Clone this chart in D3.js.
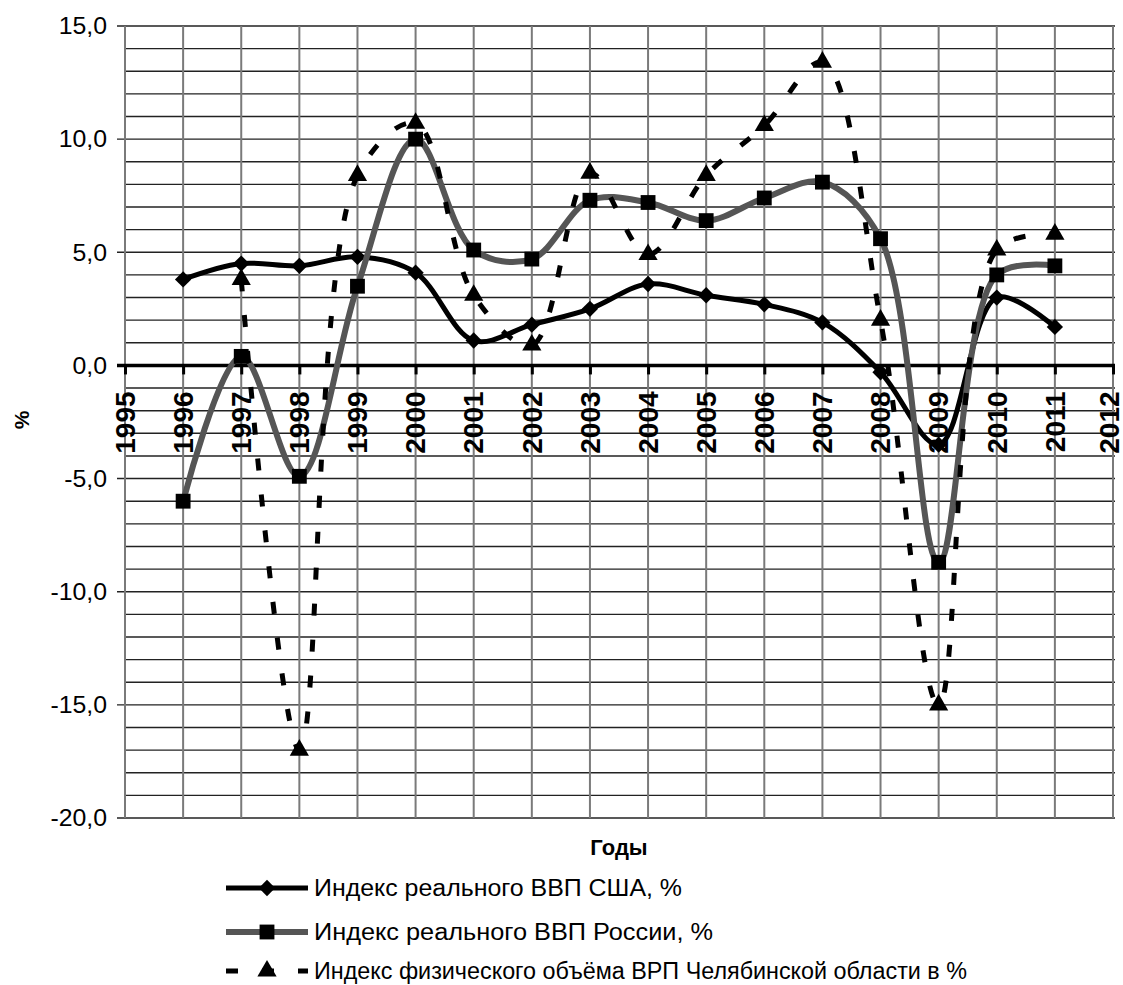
<!DOCTYPE html>
<html>
<head>
<meta charset="utf-8">
<script src="https://cdn.jsdelivr.net/npm/d3@7"></script>
<style>
  body { margin: 0; background: #fff; }
  svg { display: block; font-family: "Liberation Sans", Arial, sans-serif; }
</style>
</head>
<body>
<div id="chart"></div>
<script>
// data
const years = [1996, 1997, 1998, 1999, 2000, 2001, 2002, 2003, 2004, 2005, 2006, 2007, 2008, 2009, 2010, 2011];
const usa = [3.8, 4.5, 4.4, 4.8, 4.1, 1.1, 1.8, 2.5, 3.6, 3.1, 2.7, 1.9, -0.3, -3.5, 3.0, 1.7];
const russia = [-6.0, 0.4, -4.9, 3.5, 10.0, 5.1, 4.7, 7.3, 7.2, 6.4, 7.4, 8.1, 5.6, -8.7, 4.0, 4.4];
const chelYears = [1997, 1998, 1999, 2000, 2001, 2002, 2003, 2004, 2005, 2006, 2007, 2008, 2009, 2010, 2011];
const chel = [3.8, -17.0, 8.4, 10.7, 3.1, 0.9, 8.5, 4.9, 8.4, 10.6, 13.4, 2.0, -15.0, 5.1, 5.8];
const seriesNames = [
  "Индекс реального ВВП США, %",
  "Индекс реального ВВП России, %",
  "Индекс физического объёма ВРП Челябинской области в %"
];
const xTicks = d3.range(1995, 2013);
const yMajor = [15, 10, 5, 0, -5, -10, -15, -20];

function drawChart(id) {
  const w = 1123;
  const h = 985;

  const svg = d3.select(`#${id}`).append("svg")
    .attr("width", w)
    .attr("height", h);

  const x = d3.scaleLinear().domain([1995, 2012]).range([125, 1113]);
  const y = d3.scaleLinear().domain([-20, 15]).range([818, 26]);

  // horizontal grid every 1.0
  svg.append("g")
    .selectAll("line")
    .data(d3.range(-20, 16))
    .join("line")
    .attr("x1", (d) => (d % 5 === 0 ? x(1995) - 8 : x(1995)))
    .attr("x2", x(2012) + 2)
    .attr("y1", (d) => y(d))
    .attr("y2", (d) => y(d))
    .attr("stroke", "#222")
    .attr("stroke-width", 1.4);

  // vertical grid at each year
  svg.append("g")
    .selectAll("line")
    .data(xTicks)
    .join("line")
    .attr("x1", (d) => x(d))
    .attr("x2", (d) => x(d))
    .attr("y1", y(15))
    .attr("y2", y(-20))
    .attr("stroke", "#7a7a7a")
    .attr("stroke-width", 2);

  // y labels (comma decimal, plain hyphen)
  svg.append("g")
    .selectAll("text")
    .data(yMajor)
    .join("text")
    .attr("transform", (d) => `translate(107, ${y(d)}) scale(1.08, 1)`)
    .attr("text-anchor", "end")
    .attr("dy", "0.36em")
    .attr("font-size", 23)
    .text((d) => d.toFixed(1).replace(".", ","));

  // zero axis with ticks
  const xAxis = d3.axisBottom(x)
    .tickValues(xTicks)
    .tickFormat(d3.format("d"))
    .tickSize(9)
    .tickSizeOuter(0);
  const ax = svg.append("g")
    .attr("transform", `translate(0, ${y(0)})`)
    .call(xAxis);
  ax.select(".domain").remove();
  ax.selectAll(".tick line").attr("stroke", "#000").attr("stroke-width", 3);
  ax.selectAll(".tick text")
    .attr("transform", "rotate(-90)")
    .attr("x", -26)
    .attr("y", (d) => (d === 2012 ? -4 : 0)) // last label kept inside the page
    .attr("dy", "0.33em")
    .attr("text-anchor", "end")
    .attr("font-size", 28)
    .attr("font-weight", "bold")
    .attr("font-family", "Liberation Sans, Arial, sans-serif")
    .attr("fill", "#000");
  svg.append("line")
    .attr("x1", x(1995) - 8)
    .attr("x2", x(2012) + 2)
    .attr("y1", y(0))
    .attr("y2", y(0))
    .attr("stroke", "#000")
    .attr("stroke-width", 3.5);

  // axis titles
  svg.append("text")
    .attr("x", 619)
    .attr("y", 855)
    .attr("text-anchor", "middle")
    .attr("font-size", 22)
    .attr("font-weight", "bold")
    .text("Годы");
  svg.append("text")
    .attr("transform", `translate(21, 420) rotate(-90)`)
    .attr("text-anchor", "middle")
    .attr("dy", "0.36em")
    .attr("font-size", 21)
    .attr("font-weight", "bold")
    .text("%");

  // smoothed lines, centripetal spline keeps overshoot small like the original
  const line = d3.line()
    .x((d) => x(d[0]))
    .y((d) => y(d[1]))
    .curve(d3.curveCatmullRom.alpha(0.5));

  const usaData = years.map((yr, i) => [yr, usa[i]]);
  const rusData = years.map((yr, i) => [yr, russia[i]]);
  const chelData = chelYears.map((yr, i) => [yr, chel[i]]);

  const styles = [
    { data: usaData, color: "#000", width: 5, dash: null, marker: d3.symbolDiamond2, size: 170 },
    { data: rusData, color: "#555", width: 6, dash: null, marker: d3.symbolSquare, size: 220 },
    { data: chelData, color: "#000", width: 5, dash: "12,24", marker: d3.symbolTriangle, size: 160 }
  ];

  styles.forEach((s) => {
    svg.append("path")
      .datum(s.data)
      .attr("d", line)
      .attr("fill", "none")
      .attr("stroke", s.color)
      .attr("stroke-width", s.width)
      .attr("stroke-dasharray", s.dash);
    svg.append("g")
      .selectAll("path")
      .data(s.data)
      .join("path")
      .attr("transform", (d) => `translate(${x(d[0])}, ${y(d[1])})`)
      .attr("d", d3.symbol().type(s.marker).size(s.size))
      .attr("fill", "#000");
  });

  // legend
  const legendY = [888, 932, 971];
  const legendWidth = [368, 399, 653];
  const legend = svg.append("g");
  styles.forEach((s, i) => {
    const g = legend.append("g").attr("transform", `translate(0, ${legendY[i]})`);
    g.append("line")
      .attr("x1", 226)
      .attr("x2", 308)
      .attr("stroke", s.color)
      .attr("stroke-width", s.width)
      .attr("stroke-dasharray", s.dash);
    g.append("path")
      .attr("transform", "translate(267, 0)")
      .attr("d", d3.symbol().type(s.marker).size(s.size))
      .attr("fill", "#000");
    g.append("text")
      .attr("x", 314)
      .attr("dy", "0.36em")
      .attr("font-size", 23)
      .attr("textLength", legendWidth[i])
      .attr("lengthAdjust", "spacingAndGlyphs")
      .text(seriesNames[i]);
  });
}

document.addEventListener("DOMContentLoaded", function () {
  drawChart("chart");
});
</script>
</body>
</html>
